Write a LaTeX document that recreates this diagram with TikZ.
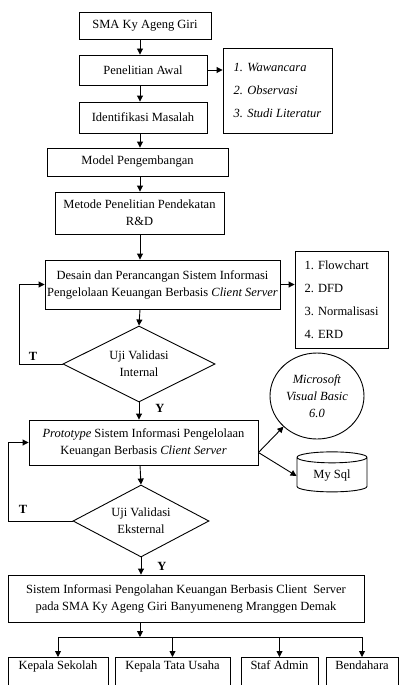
\documentclass[tikz,border=0pt]{standalone}
\usepackage{fontspec}
\setmainfont{Liberation Serif}
\usetikzlibrary{shapes.geometric, arrows.meta}

\begin{document}
\begin{tikzpicture}[x=1pt, y=-1pt, line width=0.9pt,
  >={Triangle[length=6pt, width=6pt]},
  font=\fontsize{12.5}{17}\selectfont,
  box/.style={draw, rectangle, align=center, inner sep=2pt},
  choice/.style={draw, diamond, aspect=2, align=center, inner sep=0pt},
  flag/.style={font=\fontsize{12.5}{17}\selectfont\bfseries}]
\useasboundingbox (0,0) rectangle (399,685);
\coordinate (spine) at (140,0);

% alur utama
\node[box, minimum width=132, minimum height=27] (sma) at (145,25.5) {SMA Ky Ageng Giri};
\node[box, minimum width=128, minimum height=30] (awal) at (143,70) {Penelitian Awal};
\node[box, align=left, minimum width=109, minimum height=85] (teknik) at (277.5,90.5)
  {\textit{1. Wawancara}\\[6pt]\textit{2. Observasi}\\[6pt]\textit{3. Studi Literatur}};
\node[box, minimum width=128, minimum height=31] (masalah) at (143,117.5) {Identifikasi Masalah};
\node[box, minimum width=181, minimum height=28] (model) at (137.5,162) {Model Pengembangan};
\node[box, minimum width=169, minimum height=42] (metode) at (139.5,213) {Metode Penelitian Pendekatan\\R\&D};
\node[box, minimum width=235, minimum height=49] (desain) at (162.5,284.5)
  {Desain dan Perancangan Sistem Informasi\\Pengelolaan Keuangan Berbasis \textit{Client Server}};
\node[box, align=left, minimum width=93, minimum height=97] (alat) at (341.5,299.5)
  {1. Flowchart\\[6pt]2. DFD\\[6pt]3. Normalisasi\\[6pt]4. ERD};
\node[choice, minimum width=152, minimum height=76] (internal) at (139,364) {Uji Validasi\\Internal};
\node[box, minimum width=229, minimum height=45] (proto) at (143.5,442.5)
  {\textit{Prototype} Sistem Informasi Pengelolaan\\Keuangan Berbasis \textit{Client Server}};
\node[draw, ellipse, align=center, inner sep=0pt, minimum width=94, minimum height=86] (vb) at (317,396)
  {\textit{Microsoft}\\\textit{Visual Basic}\\\textit{6.0}};
\node[draw, cylinder, shape border rotate=90, aspect=0.25, minimum width=70, minimum height=40] (db) at (332,476) {My Sql};
\node[choice, minimum width=136, minimum height=72] (eksternal) at (141,521) {Uji Validasi\\Eksternal};
\node[box, minimum width=356, minimum height=47] (sistem) at (186,598.5)
  {Sistem Informasi Pengolahan Keuangan Berbasis Client\ \ Server\\pada SMA Ky Ageng Giri Banyumeneng Mranggen Demak};

% pengguna
\node[box, anchor=north, minimum width=100, text height=10pt, text depth=30pt] (ks) at (58,657) {Kepala Sekolah};
\node[box, anchor=north, minimum width=115, text height=10pt, text depth=30pt] (ktu) at (172.5,657) {Kepala Tata Usaha};
\node[box, anchor=north, minimum width=77, text height=10pt, text depth=30pt] (sa) at (279.5,657) {Staf Admin};
\node[box, anchor=north, minimum width=72, text height=10pt, text depth=30pt] (bh) at (362,657) {Bendahara};

\node[flag] (t1) at (33,356) {T};
\node[flag] (y1) at (160,408) {Y};
\node[flag] (t2) at (23,509) {T};
\node[flag] (y2) at (162,566) {Y};

\draw[->] (sma.south -| spine) -- (awal.north -| spine);
\draw[->] (awal.south -| spine) -- (masalah.north -| spine);
\draw[->] (masalah.south -| spine) -- (model.north -| spine);
\draw[->] (model.south -| spine) -- (metode.north -| spine);
\draw[->] (metode.south -| spine) -- (desain.north -| spine);
\draw[->] (desain.south -| spine) -- (internal.north);
\draw[->] (internal.south) -- (proto.north -| internal);
\draw[->] (proto.south -| spine) -- (eksternal.north);
\draw[->] (eksternal.south) -- (sistem.north -| eksternal);

\draw[->] (awal.east) -- (teknik.west |- awal.east);
\draw[->] (desain.east) -- (alat.west |- desain.east);
\draw[->] (internal.west) -- ++(-43,0) |- (desain.west);
\draw[->] (eksternal.west) -- ++(-64,0) |- (proto.west);
\draw[->] ([yshift=-10pt]proto.east) -- (vb.south west);
\draw[->] ([yshift=-10pt]proto.east) -- (db.west);

\coordinate (split) at (140,637);
\draw[->] (sistem.south -| spine) -- (split);
\draw (ks.north |- split) -- (bh.north |- split);
\foreach \n in {ks,ktu,sa,bh}
  \draw[->] (\n.north |- split) -- (\n.north);
\end{tikzpicture}
\end{document}
